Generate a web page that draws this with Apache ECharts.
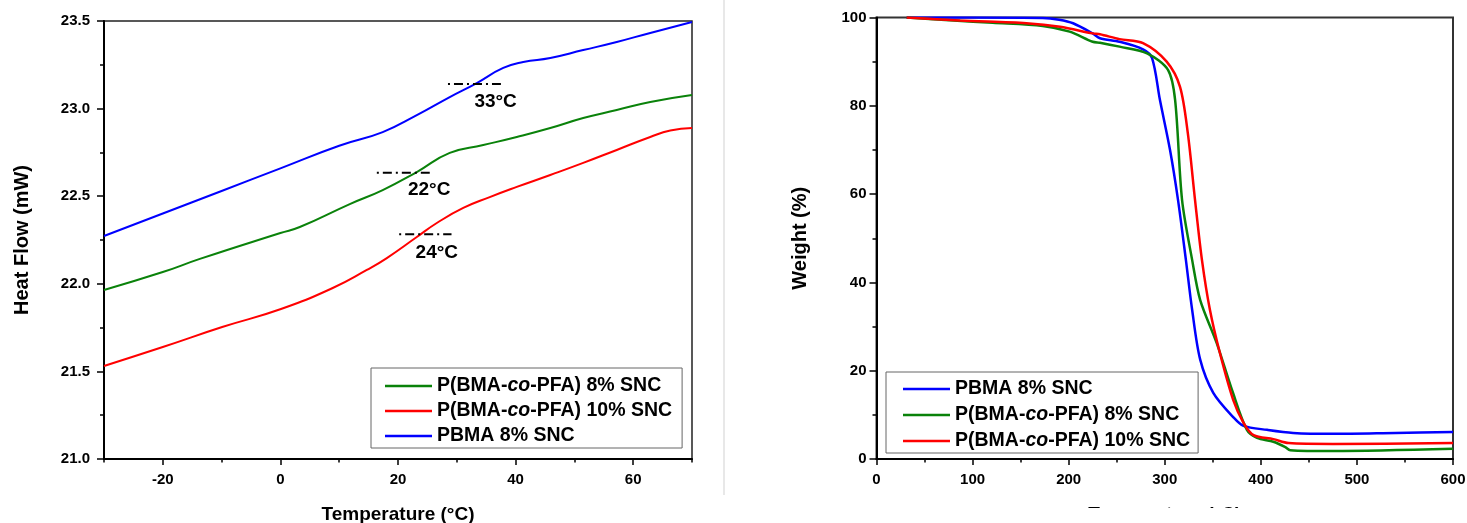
<!DOCTYPE html>
<html><head><meta charset="utf-8">
<script src="https://cdn.jsdelivr.net/npm/echarts@6/dist/echarts.min.js"></script>
<style>html,body{margin:0;padding:0;background:#fff}#c{width:1467px;height:523px}</style>
</head><body><div id="c"></div>
<script>
// ---------- names ----------
const NAME_PBMA = 'PBMA 8% SNC';
const NAME_8 = 'P(BMA-co-PFA) 8% SNC';
const NAME_10 = 'P(BMA-co-PFA) 10% SNC';

// ---------- DSC (left) ----------
const dscT_PBMA = [-30, -20, -10, 0, 10, 17.4, 23.2, 28.8, 33.4, 37.9, 41.3, 45.9, 51.5, 57.2, 62.9, 70];
const dscH_PBMA = [22.273, 22.401, 22.530, 22.659, 22.788, 22.866, 22.963, 23.066, 23.146, 23.232, 23.266, 23.289, 23.334, 23.380, 23.432, 23.494];
const dscT_8 = [-30, -20, -13.7, 0, 3.3, 11.8, 17.4, 23.2, 28.8, 34.5, 40.2, 45.9, 51.5, 57.2, 62.9, 70];
const dscH_8 = [21.965, 22.067, 22.142, 22.290, 22.324, 22.455, 22.535, 22.638, 22.747, 22.792, 22.838, 22.889, 22.946, 22.992, 23.038, 23.078];
const dscT_10 = [-30, -20, -9.9, 0.1, 8.9, 14.7, 18.1, 23.2, 26.6, 31.1, 35.6, 40.2, 45.9, 51.5, 57.2, 62.9, 66.3, 70];
const dscH_10 = [21.531, 21.639, 21.753, 21.856, 21.976, 22.079, 22.147, 22.267, 22.347, 22.433, 22.495, 22.553, 22.621, 22.690, 22.764, 22.838, 22.875, 22.889];

// Tg annotations (dash-dot segments and labels)
const tgLines = [
  [[28.5, 23.14], [37.5, 23.14]],
  [[16.4, 22.634], [25.4, 22.634]],
  [[20.2, 22.283], [29.1, 22.283]]
];
const tgLabels = [[36.6, 23.039, '33°C'], [25.3, 22.539, '22°C'], [26.6, 22.176, '24°C']];

// ---------- TGA (right) ----------
const tgaT_PBMA = [31.4, 100, 173, 190, 204.6, 225, 232.6, 253, 277.4, 286.8, 295, 305.5, 313.8, 322, 328.5, 336.9, 350.5, 371.2, 382, 406.5, 433.6, 475.4, 540, 600];
const tgaW_PBMA = [100, 100, 99.9, 99.5, 98.7, 96.4, 95.3, 94.5, 92.8, 90.8, 81.3, 70, 58.7, 45.1, 33.8, 22.5, 15, 9.5, 7.5, 6.6, 5.9, 5.7, 5.9, 6.1];
const tgaT_8 = [31.4, 80, 121, 173, 201, 225, 232.6, 253, 281.6, 303.5, 310.8, 318, 328.5, 336.9, 354, 371, 385.5, 396, 413, 425.5, 430.6, 475, 600];
const tgaW_8 = [100, 99.3, 98.8, 98.1, 96.8, 94.5, 94.3, 93.4, 91.9, 88.1, 81.3, 58.7, 45.1, 36, 26.3, 15, 6.6, 4.8, 3.9, 2.7, 2.0, 1.8, 2.3];
const tgaT_10 = [31.4, 87, 156, 191, 225, 232.6, 253, 277.4, 302, 315.9, 324, 331.5, 338.7, 347, 357.4, 371.2, 382, 392.5, 413, 429, 475, 600];
const tgaW_10 = [100, 99.3, 98.7, 97.9, 96.4, 96.2, 95.1, 94.2, 90, 84.3, 73.8, 58.7, 45.1, 33.8, 24, 13.4, 8.2, 5.4, 4.5, 3.6, 3.4, 3.6];

// ---------- axis ticks ----------
const dscXMajor = [-20, 0, 20, 40, 60];

const FONT = "'Liberation Sans', Arial, sans-serif";
const BLUE = '#0000ff', GREEN = '#0a820a', RED = '#ff0000';

function zip(a, b) { return a.map((v, i) => [v, b[i]]); }
function legendFmt(name) {
  const i = name.indexOf('-co-');
  if (i < 0) return '{b|' + name + '}';
  return '{b|' + name.slice(0, i + 1) + '}{i|co}{b|' + name.slice(i + 3) + '}';
}
const legendRich = {
  b: { fontFamily: FONT, fontWeight: 'bold', fontSize: 19.5, color: '#000', lineHeight: 20 },
  i: { fontFamily: FONT, fontWeight: 'bold', fontStyle: 'italic', fontSize: 19.5, color: '#000', lineHeight: 20 }
};
const axLine = { show: true, onZero: false, lineStyle: { color: '#000', width: 2 } };
const lbl = (m) => ({ color: '#000', fontWeight: 'bold', fontSize: 15, fontFamily: FONT, margin: m });
const nameStyle = (s) => ({ color: '#000', fontWeight: 'bold', fontSize: s, fontFamily: FONT });
const tick = (len) => ({ show: true, inside: false, length: len, lineStyle: { color: '#000', width: 1.5 } });
const minor = (len) => ({ show: true, splitNumber: 2, length: len, lineStyle: { color: '#000', width: 1.5 } });

function lineSeries(name, xi, yi, data, color, w, sm) {
  return { name, type: 'line', xAxisIndex: xi, yAxisIndex: yi, data, showSymbol: false, symbol: 'none',
    smooth: sm, lineStyle: { color, width: w }, itemStyle: { color }, silent: true, z: 3 };
}

const series = [
  lineSeries(NAME_PBMA, 0, 0, zip(dscT_PBMA, dscH_PBMA), BLUE, 2, 0.5),
  lineSeries(NAME_8, 0, 0, zip(dscT_8, dscH_8), GREEN, 2, 0.5),
  lineSeries(NAME_10, 0, 0, zip(dscT_10, dscH_10), RED, 2, 0.5),
  lineSeries(NAME_PBMA, 2, 1, zip(tgaT_PBMA, tgaW_PBMA), BLUE, 2.5, 0.3),
  lineSeries(NAME_8, 2, 1, zip(tgaT_8, tgaW_8), GREEN, 2.5, 0.3),
  lineSeries(NAME_10, 2, 1, zip(tgaT_10, tgaW_10), RED, 2.5, 0.3)
];
tgLines.forEach((seg, k) => series.push({
  name: 'tg' + k, type: 'line', xAxisIndex: 0, yAxisIndex: 0, data: seg, symbol: 'none', silent: true,
  lineStyle: { color: '#000', width: 2, type: [2, 4, 9, 4] }, z: 4
}));
series.push({
  name: 'tgLabels', type: 'scatter', xAxisIndex: 0, yAxisIndex: 0, data: tgLabels, symbolSize: 0, silent: true,
  itemStyle: { opacity: 1 },
  label: { show: true, position: 'inside', formatter: p => p.data[2], color: '#000', fontWeight: 'bold', fontSize: 19, fontFamily: FONT }
});

const option = {
  animation: false,
  backgroundColor: '#fff',
  grid: [
    { left: 104, top: 21, width: 588, height: 438, outerBoundsMode: 'none', containLabel: false, show: true, borderColor: '#222', borderWidth: 1.5, backgroundColor: 'transparent' },
    { left: 876.5, top: 17.5, width: 576.5, height: 441.5, outerBoundsMode: 'none', containLabel: false, show: true, borderColor: '#333', borderWidth: 2, backgroundColor: 'transparent' }
  ],
  xAxis: [
    { type: 'value', gridIndex: 0, position: 'bottom', min: -30, max: 70, axisLine: axLine, splitLine: { show: false },
      axisTick: Object.assign(tick(6), { customValues: dscXMajor }),
      axisLabel: Object.assign(lbl(13), { customValues: dscXMajor }),
      name: 'Temperature (°C)', nameLocation: 'middle', nameGap: 46, nameTextStyle: nameStyle(19) },
    { type: 'value', gridIndex: 0, position: 'bottom', min: -30, max: 70, interval: 10, axisLine: { show: false, onZero: false }, splitLine: { show: false },
      axisTick: tick(3.5), axisLabel: { show: false } },
    { type: 'value', gridIndex: 1, position: 'bottom', min: 0, max: 600, interval: 100, axisLine: axLine, splitLine: { show: false },
      axisTick: tick(6), minorTick: minor(3.5), axisLabel: lbl(13),
      name: 'Temperature (°C)', nameLocation: 'middle', nameGap: 46, nameTextStyle: nameStyle(19) }
  ],
  yAxis: [
    { type: 'value', gridIndex: 0, min: 21, max: 23.5, interval: 0.5, axisLine: axLine, splitLine: { show: false },
      axisTick: tick(7), minorTick: minor(4), axisLabel: Object.assign(lbl(14), { formatter: v => v.toFixed(1) }),
      name: 'Heat Flow (mW)', nameLocation: 'middle', nameGap: 72, nameTextStyle: nameStyle(20) },
    { type: 'value', gridIndex: 1, min: 0, max: 100, interval: 20, axisLine: axLine, splitLine: { show: false },
      axisTick: tick(7), minorTick: minor(4), axisLabel: lbl(10),
      name: 'Weight (%)', nameLocation: 'middle', nameGap: 66, nameTextStyle: nameStyle(20) }
  ],
  legend: [
    { data: [NAME_8, NAME_10, NAME_PBMA], left: 371, top: 368, orient: 'vertical', icon: 'rect', itemWidth: 47, itemHeight: 2.5,
      itemGap: 5, padding: [8, 10, 2, 14], borderColor: '#666', borderWidth: 1, selectedMode: false,
      formatter: legendFmt, textStyle: { rich: legendRich, lineHeight: 20 } },
    { data: [NAME_PBMA, NAME_8, NAME_10], left: 886, top: 372, orient: 'vertical', icon: 'rect', itemWidth: 47, itemHeight: 2.5,
      itemGap: 6, padding: [7, 8, 2, 17], borderColor: '#666', borderWidth: 1, selectedMode: false,
      formatter: legendFmt, textStyle: { rich: legendRich, lineHeight: 20 } }
  ],
  graphic: [
    { type: 'line', shape: { x1: 724, y1: 0, x2: 724, y2: 495 }, style: { stroke: '#e8e8e8', lineWidth: 2 }, z: -1 },
    { type: 'rect', shape: { x: 745, y: 508, width: 722, height: 15 }, style: { fill: '#fff' }, z: 100 }
  ],
  series
};
const chart = echarts.init(document.getElementById('c'));
chart.setOption(option);
</script></body></html>
